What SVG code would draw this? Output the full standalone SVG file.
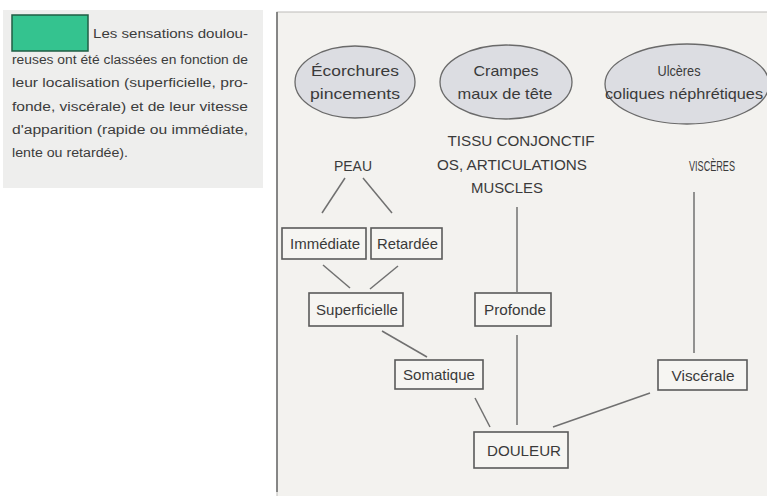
<svg xmlns="http://www.w3.org/2000/svg" width="767" height="496" viewBox="0 0 767 496">
<style>
.t{font-family:"Liberation Sans",Arial,sans-serif;fill:#3a3a3a}
.p{font-size:12px;fill:#3c3c3c}
.n{font-size:15px;text-anchor:middle}
.e{fill:#dcdde2;stroke:#6a6a6a;stroke-width:1.3}
.b{fill:#f6f5f2;stroke:#5a5a5a;stroke-width:1.6}
.c line{stroke:#707070;stroke-width:1.5}
</style>
<rect width="767" height="496" fill="#ffffff"/>
<g id="caption">
<rect x="3" y="10" width="260" height="178" fill="#eeeeed"/>
<rect x="12" y="15" width="76" height="36" fill="#34c38f" stroke="#1f5e44" stroke-width="1.5"/>
<text class="t p" x="93" y="38" textLength="155" lengthAdjust="spacingAndGlyphs">Les sensations doulou-</text>
<text class="t p" x="12" y="64" textLength="236" lengthAdjust="spacingAndGlyphs">reuses ont été classées en fonction de</text>
<text class="t p" x="12" y="87" textLength="236" lengthAdjust="spacingAndGlyphs">leur localisation (superficielle, pro-</text>
<text class="t p" x="12" y="111" textLength="236" lengthAdjust="spacingAndGlyphs">fonde, viscérale) et de leur vitesse</text>
<text class="t p" x="12" y="134" textLength="236" lengthAdjust="spacingAndGlyphs">d'apparition (rapide ou immédiate,</text>
<text class="t p" x="12" y="157" textLength="116" lengthAdjust="spacingAndGlyphs">lente ou retardée).</text>
</g>
<g id="panel">
<rect x="277" y="12" width="492" height="486" fill="#f3f2ef" stroke="#bdbcb9" stroke-width="1"/>
<line x1="277" y1="12" x2="277" y2="492" stroke="#6a6a6a" stroke-width="1.5"/>
</g>
<g class="c" id="connectors">
<line x1="345" y1="178" x2="322" y2="213"/>
<line x1="363" y1="178" x2="392" y2="213"/>
<line x1="323" y1="265" x2="350" y2="288"/>
<line x1="398" y1="266" x2="370" y2="289"/>
<line x1="517" y1="207" x2="517" y2="292"/>
<line x1="517" y1="335" x2="517" y2="425"/>
<line x1="382" y1="331" x2="427" y2="357"/>
<line x1="475" y1="398" x2="490" y2="427"/>
<line x1="694" y1="192" x2="694" y2="353"/>
<line x1="650" y1="393" x2="553" y2="427"/>
</g>
<g id="ecorchures">
<ellipse class="e" cx="355" cy="82" rx="60" ry="36"/>
<text class="t n" x="355" y="76" textLength="88" lengthAdjust="spacingAndGlyphs">Écorchures</text>
<text class="t n" x="355" y="99" textLength="90" lengthAdjust="spacingAndGlyphs">pincements</text>
</g>
<g id="crampes">
<ellipse class="e" cx="506" cy="82" rx="66" ry="37"/>
<text class="t n" x="506" y="76" textLength="65" lengthAdjust="spacingAndGlyphs">Crampes</text>
<text class="t n" x="505" y="99" textLength="95" lengthAdjust="spacingAndGlyphs">maux de tête</text>
</g>
<g id="ulceres">
<ellipse class="e" cx="687" cy="84" rx="82" ry="40"/>
<text class="t n" x="679" y="76" textLength="43" lengthAdjust="spacingAndGlyphs">Ulcères</text>
<text class="t n" x="684" y="99" textLength="158" lengthAdjust="spacingAndGlyphs">coliques néphrétiques</text>
</g>
<g id="peau">
<text class="t n" x="353" y="171" textLength="38" lengthAdjust="spacingAndGlyphs">PEAU</text>
</g>
<g id="tissu">
<text class="t n" x="521" y="146" textLength="147" lengthAdjust="spacingAndGlyphs">TISSU CONJONCTIF</text>
<text class="t n" x="512" y="170" textLength="150" lengthAdjust="spacingAndGlyphs">OS, ARTICULATIONS</text>
<text class="t n" x="507" y="193" textLength="72" lengthAdjust="spacingAndGlyphs">MUSCLES</text>
</g>
<g id="visceres">
<text class="t n" x="712" y="171" textLength="46" lengthAdjust="spacingAndGlyphs">VISCÈRES</text>
</g>
<g id="immediate">
<rect class="b" x="282" y="228" width="84" height="31"/>
<text class="t n" x="325" y="249" textLength="70" lengthAdjust="spacingAndGlyphs">Immédiate</text>
</g>
<g id="retardee">
<rect class="b" x="371" y="228" width="71" height="31"/>
<text class="t n" x="407.5" y="249" textLength="61" lengthAdjust="spacingAndGlyphs">Retardée</text>
</g>
<g id="superficielle">
<rect class="b" x="309" y="293" width="94" height="33"/>
<text class="t n" x="357" y="315" textLength="82" lengthAdjust="spacingAndGlyphs">Superficielle</text>
</g>
<g id="profonde">
<rect class="b" x="475" y="293" width="76" height="33"/>
<text class="t n" x="515" y="315" textLength="62" lengthAdjust="spacingAndGlyphs">Profonde</text>
</g>
<g id="somatique">
<rect class="b" x="395" y="360" width="88" height="29"/>
<text class="t n" x="439" y="380" textLength="72" lengthAdjust="spacingAndGlyphs">Somatique</text>
</g>
<g id="viscerale">
<rect class="b" x="658" y="360" width="89" height="30"/>
<text class="t n" x="703" y="381" textLength="63" lengthAdjust="spacingAndGlyphs">Viscérale</text>
</g>
<g id="douleur">
<rect class="b" x="474" y="432" width="94" height="36"/>
<text class="t n" x="524" y="456" textLength="74" lengthAdjust="spacingAndGlyphs">DOULEUR</text>
</g>
</svg>
